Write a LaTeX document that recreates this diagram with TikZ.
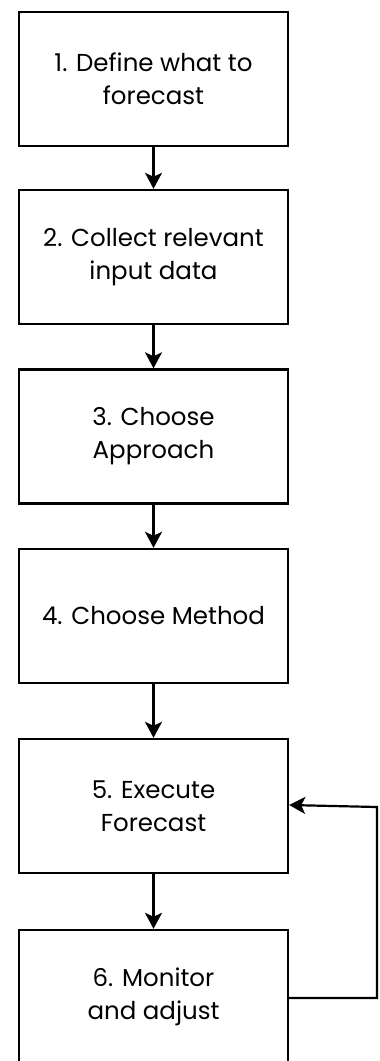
\documentclass[tikz,border=0pt]{standalone}
\usepackage{fontspec}
\setmainfont{Poppins}
\usetikzlibrary{arrows.meta,positioning}

\tikzset{
  stepbox/.style={draw=black, fill=white, line width=2.4pt,
    minimum width=269pt, minimum height=134pt, inner sep=0pt,
    align=center, font=\fontsize{24.5}{33}\selectfont},
  flow/.style={draw=black, line width=2.2pt,
    -{Stealth[length=16pt,width=17pt,inset=4pt]}},
}

\begin{document}
\begin{tikzpicture}[x=1pt,y=-1pt]
  \useasboundingbox (0,0) rectangle (380,1061);
  \clip (0,0) rectangle (380,1061);

  \node[stepbox] (s1) at (153.5,79)    {1. Define what to\\forecast};
  \node[stepbox] (s2) at (153.5,257)   {2. Collect relevant\\input data};
  \node[stepbox] (s3) at (153.5,436.5) {3. Choose\\Approach};
  \node[stepbox] (s4) at (153.5,616)   {4. Choose Method};
  \node[stepbox] (s5) at (153.5,806)   {5. Execute\\Forecast};
  \node[stepbox] (s6) at (153.5,997)   {6. Monitor\\and adjust};

  \draw[flow] (s1.south) -- (s2.north);
  \draw[flow] (s2.south) -- (s3.north);
  \draw[flow] (s3.south) -- (s4.north);
  \draw[flow] (s4.south) -- (s5.north);
  \draw[flow] (s5.south) -- (s6.north);

  % feedback loop from monitoring back to execution
  \coordinate (lb) at (377,998);
  \coordinate (lt) at (377,807);
  \draw[flow] ([yshift=-1pt]s6.east) -- (lb) -- (lt) -- ([yshift=1pt]s5.east);
\end{tikzpicture}
\end{document}
